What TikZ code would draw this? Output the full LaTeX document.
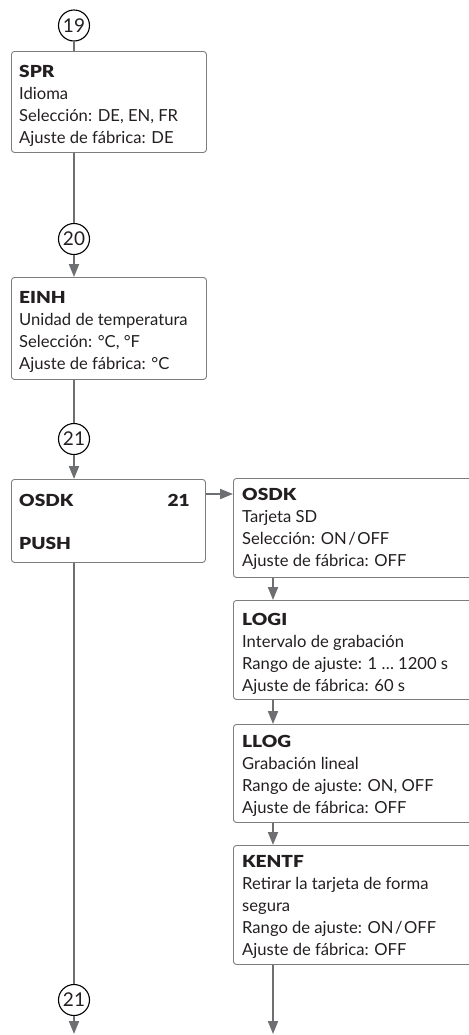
\documentclass[tikz,border=0pt]{standalone}
\usepackage{fontspec}
\setmainfont{Lato}[BoldFont={Lato Black},BoldFeatures={FakeStretch=1.15}]
\usetikzlibrary{arrows.meta}
\definecolor{linegray}{RGB}{110,111,114}
\definecolor{boxgray}{RGB}{125,125,125}
\definecolor{txt}{RGB}{35,31,32}
\begin{document}
\begin{tikzpicture}[x=1bp,y=-1bp,
  box/.style={draw=boxgray, line width=0.9bp, rounded corners=3bp, rectangle, inner sep=0pt, anchor=north west},
  txtnode/.style={anchor=north west, inner sep=0pt, align=left, text=txt, font=\fontsize{16.6bp}{22bp}\selectfont},
  conn/.style={draw=linegray, line width=2bp},
  arr/.style={conn, -{Triangle[length=13bp,width=10bp]}},
  num/.style={circle, draw=black, line width=1.1bp, minimum size=31bp, inner sep=0pt, font=\fontsize{19bp}{19bp}\selectfont, text=txt}]
\useasboundingbox (0,0) rectangle (469,1035);
\clip (0,0) rectangle (469,1035);
% circles
\node[num] (c19) at (74,25.5) {19};
\node[num] (c20) at (74,239) {20};
\node[num] (c21a) at (74,439) {21};
\node[num] (c21b) at (74,1000) {21};
% boxes
\node[box, minimum width=195bp, minimum height=101bp] (spr) at (11,51) {};
\node[box, minimum width=195bp, minimum height=102bp] (einh) at (11,277) {};
\node[box, minimum width=194bp, minimum height=83bp] (osdk) at (11,479) {};
\node[box, minimum width=260bp, minimum height=99bp] (osdkR) at (233,478) {};
\node[box, minimum width=260bp, minimum height=99bp] (logi) at (233,600) {};
\node[box, minimum width=260bp, minimum height=98bp] (llog) at (233,724) {};
\node[box, minimum width=260bp, minimum height=119bp] (kentf) at (233,845) {};
% texts
\node[txtnode] (tspr) at (19,65) {\textbf{SPR}\\Idioma\\Selección: DE, EN, FR\\Ajuste de fábrica: DE};
\node[txtnode] (teinh) at (19,291) {\textbf{EINH}\\Unidad de temperatura\\Selección: °C, °F\\Ajuste de fábrica: °C};
\node[txtnode] (tosdk) at (19,494) {\textbf{OSDK}};
\node[txtnode, anchor=north east] (tnum) at (190,494) {\textbf{21}};
\node[txtnode] (tpush) at (19,537) {\textbf{PUSH}};
\node[txtnode] (tosdkR) at (242,488) {\textbf{OSDK}\\Tarjeta SD\\Selección: ON\hspace{1.5bp}/\hspace{1.5bp}OFF\\Ajuste de fábrica: OFF};
\node[txtnode] (tlogi) at (242,613) {\textbf{LOGI}\\Intervalo de grabación\\Rango de ajuste: 1 … 1200 s\\Ajuste de fábrica: 60 s};
\node[txtnode] (tllog) at (242,735) {\textbf{LLOG}\\Grabación lineal\\Rango de ajuste: ON, OFF\\Ajuste de fábrica: OFF};
\node[txtnode] (tkentf) at (242,855) {\textbf{KENTF}\\Retirar la tarjeta de forma\\segura\\Rango de ajuste: ON\hspace{1.5bp}/\hspace{1.5bp}OFF\\Ajuste de fábrica: OFF};
% helper coordinates
\coordinate (h) at (0,494);
\coordinate (rx) at (273,0);
\coordinate (endL) at (74,1034);
\coordinate (endR) at (273,1034);
% connectors
\draw[conn] (c19.south) -- (c19.south |- spr.north);
\draw[conn] (c20 |- spr.south) -- (c20.north);
\draw[arr] (c20.south) -- (c20 |- einh.north);
\draw[conn] (c21a |- einh.south) -- (c21a.north);
\draw[arr] (c21a.south) -- (c21a |- osdk.north);
\draw[arr] (osdk.east |- h) -- (osdkR.west |- h);
\draw[arr] (rx |- osdkR.south) -- (rx |- logi.north);
\draw[arr] (rx |- logi.south) -- (rx |- llog.north);
\draw[arr] (rx |- llog.south) -- (rx |- kentf.north);
\draw[arr] (rx |- kentf.south) -- (endR);
\draw[conn] (c21b |- osdk.south) -- (c21b.north);
\draw[arr] (c21b.south) -- (endL);
\end{tikzpicture}
\end{document}
